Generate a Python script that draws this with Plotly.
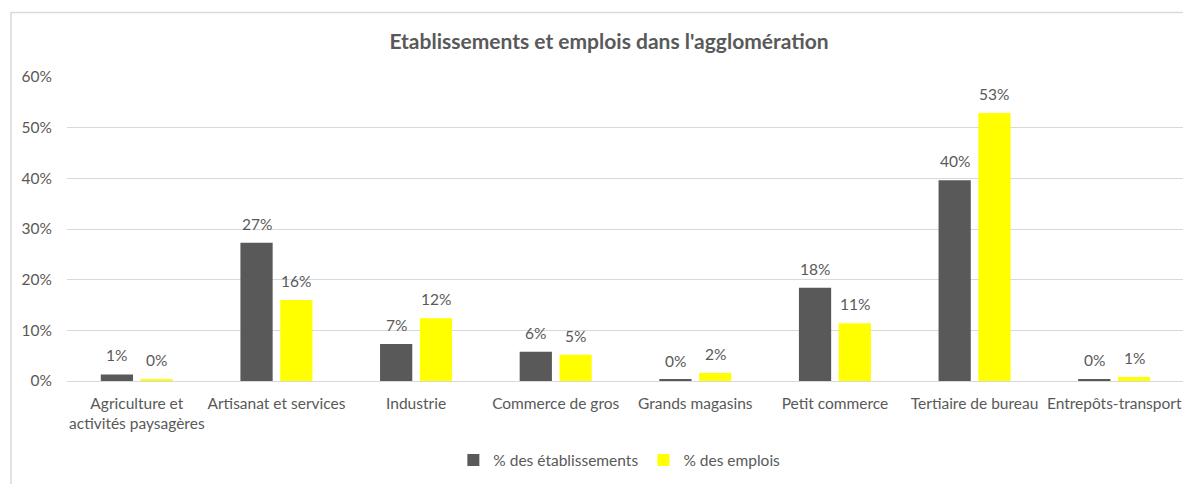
import plotly.graph_objects as go

categories = ["Agriculture et<br>activités paysagères", "Artisanat et services", "Industrie",
              "Commerce de gros", "Grands magasins", "Petit commerce",
              "Tertiaire de bureau", "Entrepôts-transport"]
etablissements = [0.013, 0.273, 0.073, 0.0575, 0.0025, 0.184, 0.396, 0.004]
emplois = [0.004, 0.160, 0.124, 0.052, 0.016, 0.114, 0.529, 0.008]
series_names = ["% des établissements", "% des emplois"]
tick_vals = [0, 0.1, 0.2, 0.3, 0.4, 0.5, 0.6]
tick_text = ["0%", "10%", "20%", "30%", "40%", "50%", "60%"]

FONT = "Lato, 'Open Sans', sans-serif"
TXT = "#595959"
GRID = "#D9D9D9"
FS = 15.5

# page has 8px body margin: figure coordinates = page coordinates - 8
W, H = 1183, 476
L, R, T, B = 59, 7, 69, 101
PW, PH = W - L - R, H - T - B
BARGAP, GROUPGAP = 0.43, 0.19
slot = PW / len(categories) * (1 - BARGAP) / 2

fig = go.Figure()
fig.add_trace(go.Bar(x=categories, y=etablissements, name=series_names[0],
                     marker=dict(color="#595959", line=dict(width=0))))
fig.add_trace(go.Bar(x=categories, y=emplois, name=series_names[1],
                     marker=dict(color="#FFFF00", line=dict(width=0))))

annotations = []
for vals, dx in ((etablissements, -slot / 2), (emplois, slot / 2)):
    for c, v in zip(categories, vals):
        annotations.append(dict(x=c, y=v, xref="x", yref="y", text=f"{v:.0%}",
                                showarrow=False, xanchor="center", yanchor="bottom",
                                xshift=dx, yshift=8,
                                font=dict(size=FS, color=TXT, family=FONT)))

fig.update_layout(
    width=W, height=H,
    margin=dict(l=L, r=R, t=T, b=B),
    paper_bgcolor="white", plot_bgcolor="white",
    font=dict(family=FONT, color=TXT, size=FS),
    title=dict(text="<b>Etablissements et emplois dans l'agglomération</b>",
               x=601/W, xanchor="center", y=1-34/H, yanchor="middle",
               font=dict(size=21, color=TXT, family=FONT)),
    barmode="group", bargap=BARGAP, bargroupgap=GROUPGAP,
    showlegend=True,
    legend=dict(orientation="h", x=585/W, xref="paper", xanchor="center",
                y=(T + PH - 455) / PH, yanchor="middle",
                font=dict(size=FS, color=TXT, family=FONT),
                itemwidth=30, traceorder="normal"),
    xaxis=dict(showline=True, linecolor=GRID, linewidth=1, ticks="", showgrid=False,
               ticklabelstandoff=8,
               tickfont=dict(size=FS, color=TXT, family=FONT)),
    yaxis=dict(range=[0, 0.6], tickvals=tick_vals, ticktext=tick_text, showgrid=True,
               gridcolor=GRID, gridwidth=1, zeroline=False, showline=False, ticks="",
               ticklabelstandoff=14,
               tickfont=dict(size=FS, color=TXT, family=FONT)),
    annotations=annotations,
    shapes=[dict(type="rect", xref="paper", yref="paper",
                 x0=(3 - L) / PW, x1=1.2, y0=-0.6, y1=(T + PH - 4) / PH,
                 line=dict(color=GRID, width=1.5), layer="below")],
)

fig.write_html("out.html")
